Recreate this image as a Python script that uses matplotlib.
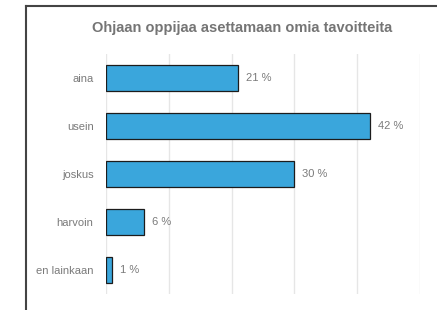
import matplotlib.pyplot as plt
from matplotlib.lines import Line2D

categories = ['aina', 'usein', 'joskus', 'harvoin', 'en lainkaan']
values = [21, 42, 30, 6, 1]
title = 'Ohjaan oppijaa asettamaan omia tavoitteita'

plt.rcParams['font.family'] = ['Liberation Sans', 'DejaVu Sans']

W, H = 437, 310
fig = plt.figure(figsize=(W / 100, H / 100), dpi=100)
ax = fig.add_axes([106 / W, 1 - 294 / H, (420 - 106) / W, (294 - 54) / H])

ax.barh(categories, values, height=0.56, color='#3aa6dc', edgecolor='#1c1c1c', linewidth=0.9, zorder=3)
ax.set_xlim(0, 50)
ax.set_ylim(len(categories) - 0.5, -0.5)
ax.set_xticks(range(0, 51, 10))
ax.xaxis.grid(True, color='#e6e6e6', linewidth=1, zorder=0)
ax.tick_params(axis='x', length=0, labelbottom=False)
ax.tick_params(axis='y', length=0, pad=9, labelsize=8, labelcolor='#7a7a7a')
for s in ax.spines.values():
    s.set_visible(False)

for i, v in enumerate(values):
    ax.text(v + 1.25, i, f'{v} %', va='center', ha='left', fontsize=8, color='#7a7a7a')

fig.text(242 / W, 1 - 28 / H, title, ha='center', va='center', fontsize=10.5,
         fontweight='bold', color='#757575')

# chart frame (cut off at right and bottom)
fig.add_artist(Line2D([26 / W, 26 / W], [0, 1 - 6 / H], color='#444444', linewidth=1.5))
fig.add_artist(Line2D([26 / W, 1], [1 - 6 / H, 1 - 6 / H], color='#444444', linewidth=1.5))

fig.savefig('out.png', dpi=100)
